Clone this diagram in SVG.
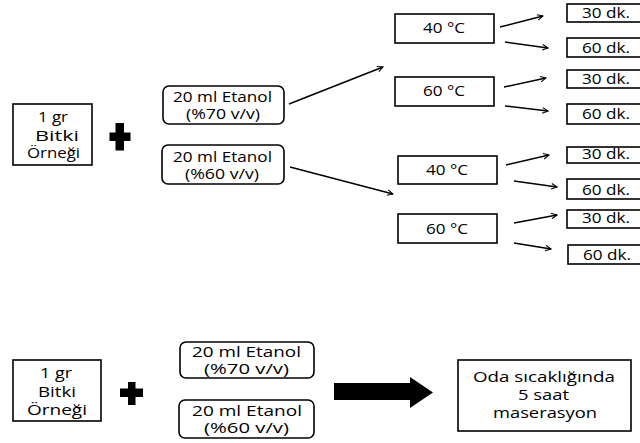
<svg xmlns="http://www.w3.org/2000/svg" width="640" height="443" viewBox="0 0 640 443">
<defs>
<marker id="ah" viewBox="0 0 10 10" refX="9" refY="5" markerWidth="7" markerHeight="7" markerUnits="userSpaceOnUse" orient="auto">
<path d="M1,1 L9,5 L1,9" fill="none" stroke="#000" stroke-width="1.5"/>
</marker>
<style>
.b{fill:#fff;stroke:#000;stroke-width:1.6}
.t{font-family:"Open Sans","Liberation Sans",sans-serif;font-size:15px;fill:#000;text-anchor:middle}
.c{fill:none;stroke:#000;stroke-width:1.5;marker-end:url(#ah)}
</style>
</defs>
<rect width="640" height="443" fill="#fff"/>
<g id="sample1"><rect class="b" x="13" y="104" width="79" height="61"/>
<text class="t" x="53" y="122" textLength="30" lengthAdjust="spacingAndGlyphs">1 gr</text>
<text class="t" x="57" y="141" textLength="44" lengthAdjust="spacingAndGlyphs">Bitki</text>
<text class="t" x="53.5" y="158" textLength="53" lengthAdjust="spacingAndGlyphs">Örneği</text></g>
<g id="plus1"><path d="M115.5,123h8.5v9.5h6.5v8.5h-6.5v9.5h-8.5v-9.5h-6v-8.5h6z" fill="#000"/></g>
<g id="et70"><rect class="b" x="163" y="86" width="121" height="38" rx="6"/>
<text class="t" x="222.5" y="102" textLength="99" lengthAdjust="spacingAndGlyphs">20 ml Etanol</text>
<text class="t" x="223" y="119" textLength="74" lengthAdjust="spacingAndGlyphs">(%70 v/v)</text></g>
<g id="et60"><rect class="b" x="162" y="145" width="122" height="39" rx="6"/>
<text class="t" x="222.5" y="162" textLength="99" lengthAdjust="spacingAndGlyphs">20 ml Etanol</text>
<text class="t" x="222" y="179" textLength="74" lengthAdjust="spacingAndGlyphs">(%60 v/v)</text></g>
<g id="t40a"><rect class="b" x="395" y="14" width="99" height="29"/><text class="t" x="444" y="33" textLength="42" lengthAdjust="spacingAndGlyphs">40 °C</text></g>
<g id="t60a"><rect class="b" x="395" y="77" width="99" height="29"/><text class="t" x="444" y="96" textLength="42" lengthAdjust="spacingAndGlyphs">60 °C</text></g>
<g id="t40b"><rect class="b" x="398" y="156" width="99" height="28"/><text class="t" x="447" y="175" textLength="42" lengthAdjust="spacingAndGlyphs">40 °C</text></g>
<g id="t60b"><rect class="b" x="398" y="214" width="99" height="29"/><text class="t" x="447" y="234" textLength="42" lengthAdjust="spacingAndGlyphs">60 °C</text></g>
<g id="d1"><rect class="b" x="567" y="4" width="80" height="18"/><text class="t" x="606" y="18" textLength="48" lengthAdjust="spacingAndGlyphs">30 dk.</text></g>
<g id="d2"><rect class="b" x="567" y="38" width="80" height="19"/><text class="t" x="606" y="53" textLength="48" lengthAdjust="spacingAndGlyphs">60 dk.</text></g>
<g id="d3"><rect class="b" x="567" y="70" width="80" height="18"/><text class="t" x="606" y="84" textLength="48" lengthAdjust="spacingAndGlyphs">30 dk.</text></g>
<g id="d4"><rect class="b" x="567" y="104" width="80" height="20"/><text class="t" x="606" y="119" textLength="48" lengthAdjust="spacingAndGlyphs">60 dk.</text></g>
<g id="d5"><rect class="b" x="567" y="147" width="80" height="16"/><text class="t" x="606" y="159" textLength="48" lengthAdjust="spacingAndGlyphs">30 dk.</text></g>
<g id="d6"><rect class="b" x="567" y="179" width="80" height="20"/><text class="t" x="606" y="195" textLength="48" lengthAdjust="spacingAndGlyphs">60 dk.</text></g>
<g id="d7"><rect class="b" x="567" y="210" width="80" height="18"/><text class="t" x="606" y="223" textLength="48" lengthAdjust="spacingAndGlyphs">30 dk.</text></g>
<g id="d8"><rect class="b" x="568" y="245" width="80" height="19"/><text class="t" x="607" y="260" textLength="48" lengthAdjust="spacingAndGlyphs">60 dk.</text></g>
<g id="sample2"><rect class="b" x="13" y="360" width="88" height="61"/>
<text class="t" x="56" y="378" textLength="32" lengthAdjust="spacingAndGlyphs">1 gr</text>
<text class="t" x="57" y="397" textLength="38" lengthAdjust="spacingAndGlyphs">Bitki</text>
<text class="t" x="57" y="415" textLength="60" lengthAdjust="spacingAndGlyphs">Örneği</text></g>
<g id="plus2"><path d="M128,382h7.5v6.5h7.5v8.5h-7.5v8h-7.5v-8h-8v-8.5h8z" fill="#000"/></g>
<g id="et70b"><rect class="b" x="180" y="342" width="134" height="36" rx="6"/>
<text class="t" x="246.5" y="357" textLength="109" lengthAdjust="spacingAndGlyphs">20 ml Etanol</text>
<text class="t" x="246.5" y="374" textLength="85" lengthAdjust="spacingAndGlyphs">(%70 v/v)</text></g>
<g id="et60b"><rect class="b" x="179" y="400" width="135" height="38" rx="6"/>
<text class="t" x="247" y="416" textLength="110" lengthAdjust="spacingAndGlyphs">20 ml Etanol</text>
<text class="t" x="246.5" y="433" textLength="85" lengthAdjust="spacingAndGlyphs">(%60 v/v)</text></g>
<g id="oda"><rect class="b" x="458" y="360" width="173" height="71"/>
<text class="t" x="544" y="382" textLength="142" lengthAdjust="spacingAndGlyphs">Oda sıcaklığında</text>
<text class="t" x="543.5" y="400" textLength="51" lengthAdjust="spacingAndGlyphs">5 saat</text>
<text class="t" x="545" y="418" textLength="104" lengthAdjust="spacingAndGlyphs">maserasyon</text></g>
<g id="connectors">
<path class="c" d="M289,104L383,67"/>
<path class="c" d="M290,167L393,194"/>
<path class="c" d="M500,27L543,16"/>
<path class="c" d="M505,42L548,48"/>
<path class="c" d="M504,87L546,78"/>
<path class="c" d="M505,106L548,111"/>
<path class="c" d="M506,165L549,155"/>
<path class="c" d="M514,181L557,187"/>
<path class="c" d="M514,223L557,215"/>
<path class="c" d="M514,243L551,249"/>
<path d="M334,383H410V377L433,392.5L410,408V400H334Z" fill="#000"/>
</g>
</svg>
